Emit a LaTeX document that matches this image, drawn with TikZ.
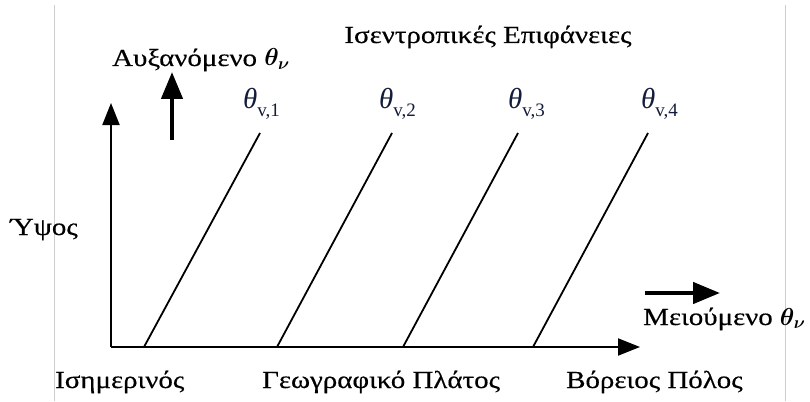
\RequirePackage{fix-cm}
\documentclass[tikz,border=0pt]{standalone}
\usepackage{bm}
\usepackage{fontspec}
\setmainfont{Liberation Serif}
\newfontfamily\grfont[FakeStretch=1.18,FakeBold=0.4]{Liberation Serif}
\newfontfamily\thfont{Liberation Serif}
\usetikzlibrary{arrows.meta}
\definecolor{thcol}{RGB}{20,28,60}
\definecolor{edgegray}{RGB}{205,205,205}
\tikzset{
  lbl/.style={inner sep=0pt, font=\grfont\fontsize{24.5}{28}\selectfont, anchor=base west},
  thlbl/.style={inner sep=0pt, font=\thfont\fontsize{29}{32}\selectfont, text=thcol, anchor=base west},
  axisline/.style={line width=2pt, -{Triangle[length=22pt,width=17pt]}},
  isoline/.style={line width=1.8pt},
  bigarrow/.style={line width=4.5pt, -{Triangle[length=27pt,width=21pt]}},
  edgeline/.style={edgegray, line width=0.8pt}
}
\newcommand{\thlab}[1]{\textit{θ}\raisebox{-8pt}{\fontsize{19}{21}\selectfont v,#1}}
\newcommand{\thnu}{$\bm{\theta}_{\bm{\nu}}$}
\begin{document}
\begin{tikzpicture}[x=1pt,y=-1pt]
\useasboundingbox (0,0) rectangle (810,401);
\clip (0,0) rectangle (810,401);
% faint page edges
\coordinate (el1) at (54,5);   \coordinate (el2) at (54,401);
\coordinate (er1) at (785,5);  \coordinate (er2) at (785,401);
\draw[edgeline] (el1) -- (el2);
\draw[edgeline] (er1) -- (er2);
% axes
\coordinate (O) at (111,347);
\coordinate (ytop) at (111,103);
\coordinate (xend) at (640,347);
\draw[axisline] (O) -- (ytop);
\draw[axisline] (O) -- (xend);
% isentropes
\coordinate (b1) at (144,347); \coordinate (t1) at (260,133);
\coordinate (b2) at (277,347); \coordinate (t2) at (392,133);
\coordinate (b3) at (403,347); \coordinate (t3) at (518,133);
\coordinate (b4) at (533,347); \coordinate (t4) at (648,133);
\draw[isoline] (b1) -- (t1);
\draw[isoline] (b2) -- (t2);
\draw[isoline] (b3) -- (t3);
\draw[isoline] (b4) -- (t4);
% theta labels
\node[thlbl] (th1) at (243,109) {\thlab{1}};
\node[thlbl] (th2) at (379,109) {\thlab{2}};
\node[thlbl] (th3) at (508,109) {\thlab{3}};
\node[thlbl] (th4) at (641,109) {\thlab{4}};
% thick arrows
\coordinate (ua1) at (172,140); \coordinate (ua2) at (172,72);
\draw[bigarrow] (ua1) -- (ua2);
\coordinate (ra1) at (645,293); \coordinate (ra2) at (720,293);
\draw[bigarrow] (ra1) -- (ra2);
% texts
\node[lbl, anchor=base] (title) at (488,43) {Ισεντροπικές Επιφάνειες};
\node[lbl] (incr) at (112,66) {Αυξανόμενο \thnu};
\node[lbl] (height) at (10,235) {Ύψος};
\node[lbl] (eq) at (55,388) {Ισημερινός};
\node[lbl] (lat) at (262,388) {Γεωγραφικό Πλάτος};
\node[lbl] (np) at (566,388) {Βόρειος Πόλος};
\node[lbl] (decr) at (643,325) {Μειούμενο \thnu};
\end{tikzpicture}
\end{document}
